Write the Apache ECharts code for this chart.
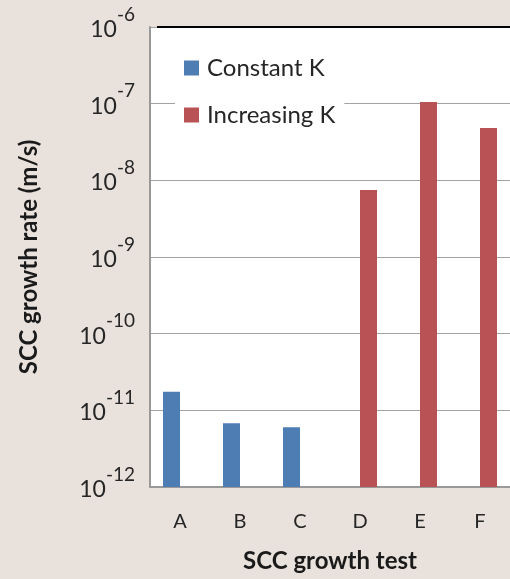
<!DOCTYPE html>
<html>
<head>
<meta charset="utf-8">
<script src="https://cdn.jsdelivr.net/npm/echarts@6/dist/echarts.min.js"></script>
<style>
  html, body { margin: 0; padding: 0; background: #E9E1DB; }
  #chart { width: 510px; height: 579px; }
</style>
</head>
<body>
<div id="chart"></div>
<script>
// SCC growth rates per test, split by loading mode
const categories = ['A', 'B', 'C', 'D', 'E', 'F'];
const constantK = [1.75e-11, 6.8e-12, 6.0e-12, '-', '-', '-'];
const increasingK = ['-', '-', '-', 7.5e-9, 1.05e-7, 4.8e-8];
const seriesNames = ['Constant K', 'Increasing K'];

const FONT = 'Lato, "Open Sans", sans-serif';
const chart = echarts.init(document.getElementById('chart'), null, { renderer: 'canvas' });

chart.setOption({
  backgroundColor: '#E9E1DB',
  animation: false,
  textStyle: { fontFamily: FONT },
  grid: { left: 150, top: 27, width: 366, height: 460, backgroundColor: '#fff', show: true, borderWidth: 0 },
  legend: {
    data: seriesNames,
    orient: 'vertical',
    left: 175,
    top: 48,
    backgroundColor: '#fff',
    padding: [8, 9, 8, 9],
    itemWidth: 15,
    itemHeight: 15,
    itemGap: 23,
    icon: 'rect',
    textStyle: { fontFamily: FONT, fontSize: 24, color: '#262626', padding: [0, 0, 0, 3] }
  },
  xAxis: {
    type: 'category',
    data: categories,
    name: 'SCC growth test',
    nameLocation: 'middle',
    nameGap: 62,
    nameTextStyle: { fontFamily: FONT, fontSize: 24, fontWeight: 'bold', color: '#1a1a1a' },
    axisLine: { lineStyle: { color: '#999', width: 2 } },
    axisTick: { show: false },
    axisLabel: { margin: 25, fontSize: 20, color: '#262626', fontFamily: FONT }
  },
  yAxis: {
    type: 'log',
    logBase: 10,
    min: 1e-12,
    max: 1e-6,
    startValue: 1e-12,
    name: 'SCC growth rate (m/s)',
    nameLocation: 'middle',
    nameGap: 109,
    nameTextStyle: { fontFamily: FONT, fontSize: 24, fontWeight: 'bold', color: '#1a1a1a' },
    axisLine: { show: true, lineStyle: { color: '#999', width: 2 } },
    axisTick: { show: false },
    splitLine: { show: true, lineStyle: { color: '#a3a3a3', width: 1 } },
    axisLabel: {
      margin: 15,
      padding: [0, 0, 8, 0],
      formatter: function (v) {
        const e = Math.round(Math.log10(v));
        return '{b|10}{s|' + e + '}';
      },
      rich: {
        b: { fontSize: 23, color: '#262626', fontFamily: FONT, lineHeight: 36, verticalAlign: 'bottom' },
        s: { fontSize: 19, color: '#262626', fontFamily: FONT, lineHeight: 19, verticalAlign: 'top' }
      }
    }
  },
  graphic: [
    { type: 'line', shape: { x1: 157, y1: 27, x2: 510, y2: 27 }, style: { stroke: '#000', lineWidth: 2 }, z: 100 }
  ],
  series: [
    {
      name: seriesNames[0], type: 'bar', data: constantK,
      barWidth: 17, barGap: '0%',
      itemStyle: { color: '#4E7DB4' }
    },
    {
      name: seriesNames[1], type: 'bar', data: increasingK,
      barWidth: 17, barGap: '0%',
      itemStyle: { color: '#B95255' }
    }
  ]
});
</script>
</body>
</html>
